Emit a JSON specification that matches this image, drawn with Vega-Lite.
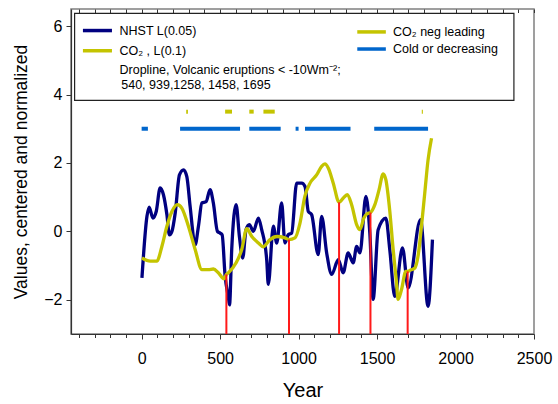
{
  "$schema": "https://vega.github.io/schema/vega-lite/v6.json",
  "autosize": "none",
  "width": 463,
  "height": 325,
  "padding": {"left": 71, "top": 9, "right": 24, "bottom": 70},
  "background": "white",
  "datasets": {
    "curves": [
      {"series": "NHST", "year": 2, "value": -1.36},
      {"series": "NHST", "year": 34, "value": 0.44},
      {"series": "NHST", "year": 48, "value": 0.71},
      {"series": "NHST", "year": 72, "value": 0.39},
      {"series": "NHST", "year": 93, "value": 0.58},
      {"series": "NHST", "year": 118, "value": 1.27},
      {"series": "NHST", "year": 139, "value": 1.07},
      {"series": "NHST", "year": 161, "value": 0.49},
      {"series": "NHST", "year": 177, "value": -0.1},
      {"series": "NHST", "year": 193, "value": 0},
      {"series": "NHST", "year": 214, "value": 0.54},
      {"series": "NHST", "year": 241, "value": 1.65},
      {"series": "NHST", "year": 267, "value": 1.8},
      {"series": "NHST", "year": 288, "value": 1.6},
      {"series": "NHST", "year": 309, "value": 0.73},
      {"series": "NHST", "year": 341, "value": -0.39},
      {"series": "NHST", "year": 362, "value": 0.15},
      {"series": "NHST", "year": 384, "value": 0.83},
      {"series": "NHST", "year": 411, "value": 0.87},
      {"series": "NHST", "year": 436, "value": 1.22},
      {"series": "NHST", "year": 457, "value": 0.83},
      {"series": "NHST", "year": 483, "value": 0},
      {"series": "NHST", "year": 500, "value": -0.05},
      {"series": "NHST", "year": 513, "value": -0.1},
      {"series": "NHST", "year": 532, "value": -1.31},
      {"series": "NHST", "year": 553, "value": -1.94},
      {"series": "NHST", "year": 560, "value": -2.15},
      {"series": "NHST", "year": 574, "value": -0.53},
      {"series": "NHST", "year": 602, "value": 0.78},
      {"series": "NHST", "year": 623, "value": -0.15},
      {"series": "NHST", "year": 644, "value": -0.78},
      {"series": "NHST", "year": 665, "value": 0.05},
      {"series": "NHST", "year": 686, "value": 0.2},
      {"series": "NHST", "year": 712, "value": 0},
      {"series": "NHST", "year": 744, "value": 0.39},
      {"series": "NHST", "year": 765, "value": 0.05},
      {"series": "NHST", "year": 797, "value": -0.83},
      {"series": "NHST", "year": 807, "value": -1.55},
      {"series": "NHST", "year": 839, "value": 0.15},
      {"series": "NHST", "year": 861, "value": -0.34},
      {"series": "NHST", "year": 892, "value": 0.83},
      {"series": "NHST", "year": 913, "value": -0.34},
      {"series": "NHST", "year": 934, "value": -0.1},
      {"series": "NHST", "year": 956, "value": -0.05},
      {"series": "NHST", "year": 988, "value": 1.41},
      {"series": "NHST", "year": 1020, "value": 1.41},
      {"series": "NHST", "year": 1041, "value": 1.31},
      {"series": "NHST", "year": 1062, "value": 0.58},
      {"series": "NHST", "year": 1083, "value": 0.49},
      {"series": "NHST", "year": 1125, "value": -0.68},
      {"series": "NHST", "year": 1147, "value": 0.44},
      {"series": "NHST", "year": 1179, "value": -0.63},
      {"series": "NHST", "year": 1211, "value": -1.26},
      {"series": "NHST", "year": 1253, "value": -0.83},
      {"series": "NHST", "year": 1284, "value": -1.21},
      {"series": "NHST", "year": 1316, "value": -0.63},
      {"series": "NHST", "year": 1348, "value": -0.92},
      {"series": "NHST", "year": 1370, "value": -0.44},
      {"series": "NHST", "year": 1391, "value": -0.63},
      {"series": "NHST", "year": 1429, "value": 1.02},
      {"series": "NHST", "year": 1454, "value": -0.05},
      {"series": "NHST", "year": 1475, "value": -1.99},
      {"series": "NHST", "year": 1507, "value": 0.05},
      {"series": "NHST", "year": 1556, "value": 0.39},
      {"series": "NHST", "year": 1581, "value": -0.53},
      {"series": "NHST", "year": 1613, "value": -1.9},
      {"series": "NHST", "year": 1662, "value": -0.48},
      {"series": "NHST", "year": 1698, "value": -1.65},
      {"series": "NHST", "year": 1777, "value": 0.34},
      {"series": "NHST", "year": 1825, "value": -2.19},
      {"series": "NHST", "year": 1853, "value": -0.24},
      {"series": "CO2", "year": 2, "value": -0.78},
      {"series": "CO2", "year": 55, "value": -0.87},
      {"series": "CO2", "year": 97, "value": -0.87},
      {"series": "CO2", "year": 129, "value": -0.44},
      {"series": "CO2", "year": 161, "value": 0.15},
      {"series": "CO2", "year": 193, "value": 0.58},
      {"series": "CO2", "year": 228, "value": 0.78},
      {"series": "CO2", "year": 256, "value": 0.68},
      {"series": "CO2", "year": 298, "value": 0.15},
      {"series": "CO2", "year": 341, "value": -0.53},
      {"series": "CO2", "year": 384, "value": -1.12},
      {"series": "CO2", "year": 426, "value": -1.12},
      {"series": "CO2", "year": 457, "value": -1.1},
      {"series": "CO2", "year": 489, "value": -1.21},
      {"series": "CO2", "year": 525, "value": -1.39},
      {"series": "CO2", "year": 540, "value": -1.26},
      {"series": "CO2", "year": 553, "value": -1.21},
      {"series": "CO2", "year": 602, "value": -0.92},
      {"series": "CO2", "year": 638, "value": -0.53},
      {"series": "CO2", "year": 670, "value": 0.08},
      {"series": "CO2", "year": 702, "value": -0.15},
      {"series": "CO2", "year": 744, "value": -0.34},
      {"series": "CO2", "year": 775, "value": -0.45},
      {"series": "CO2", "year": 818, "value": -0.24},
      {"series": "CO2", "year": 861, "value": -0.15},
      {"series": "CO2", "year": 913, "value": -0.19},
      {"series": "CO2", "year": 939, "value": -0.24},
      {"series": "CO2", "year": 977, "value": -0.19},
      {"series": "CO2", "year": 1009, "value": 0.24},
      {"series": "CO2", "year": 1040, "value": 1.02},
      {"series": "CO2", "year": 1073, "value": 1.41},
      {"series": "CO2", "year": 1115, "value": 1.65},
      {"series": "CO2", "year": 1147, "value": 1.9},
      {"series": "CO2", "year": 1168, "value": 1.97},
      {"series": "CO2", "year": 1189, "value": 1.85},
      {"series": "CO2", "year": 1221, "value": 1.41},
      {"series": "CO2", "year": 1258, "value": 0.85},
      {"series": "CO2", "year": 1284, "value": 0.97},
      {"series": "CO2", "year": 1310, "value": 1.07},
      {"series": "CO2", "year": 1338, "value": 0.78},
      {"series": "CO2", "year": 1370, "value": 0.2},
      {"series": "CO2", "year": 1391, "value": 0.05},
      {"series": "CO2", "year": 1416, "value": 0.39},
      {"series": "CO2", "year": 1437, "value": 0.52},
      {"series": "CO2", "year": 1458, "value": 0.55},
      {"series": "CO2", "year": 1486, "value": 0.78},
      {"series": "CO2", "year": 1513, "value": 1.22},
      {"series": "CO2", "year": 1539, "value": 1.68},
      {"series": "CO2", "year": 1556, "value": 1.51},
      {"series": "CO2", "year": 1581, "value": 0.6},
      {"series": "CO2", "year": 1602, "value": -0.5},
      {"series": "CO2", "year": 1624, "value": -1.5},
      {"series": "CO2", "year": 1634, "value": -1.99},
      {"series": "CO2", "year": 1656, "value": -1.7},
      {"series": "CO2", "year": 1683, "value": -1.17},
      {"series": "CO2", "year": 1695, "value": -1.17},
      {"series": "CO2", "year": 1709, "value": -1.14},
      {"series": "CO2", "year": 1741, "value": -1.07},
      {"series": "CO2", "year": 1761, "value": -0.73},
      {"series": "CO2", "year": 1783, "value": 0.15},
      {"series": "CO2", "year": 1804, "value": 1.12},
      {"series": "CO2", "year": 1825, "value": 2.09},
      {"series": "CO2", "year": 1847, "value": 2.72}
    ],
    "eruptions": [
      {"year": 540, "co2": -1.26},
      {"year": 939, "co2": -0.24},
      {"year": 1258, "co2": 0.85},
      {"year": 1458, "co2": 0.55},
      {"year": 1695, "co2": -1.17}
    ],
    "periods": [
      {"kind": "cold", "start": 0, "end": 40},
      {"kind": "cold", "start": 245, "end": 627},
      {"kind": "cold", "start": 686, "end": 886},
      {"kind": "cold", "start": 981, "end": 1000},
      {"kind": "cold", "start": 1041, "end": 1331},
      {"kind": "cold", "start": 1482, "end": 1825},
      {"kind": "neg", "start": 284, "end": 295},
      {"kind": "neg", "start": 532, "end": 576},
      {"kind": "neg", "start": 686, "end": 714},
      {"kind": "neg", "start": 776, "end": 848},
      {"kind": "neg", "start": 1785, "end": 1792}
    ],
    "one": [{}]
  },
  "layer": [
    {
      "data": {"name": "curves"},
      "mark": {"type": "line", "interpolate": "monotone", "strokeWidth": 3.3},
      "encoding": {
        "x": {
          "field": "year", "type": "quantitative",
          "scale": {"domain": [-450, 2500], "nice": false, "zero": false},
          "axis": {
            "orient": "bottom",
            "values": [-400, -300, -200, -100, 0, 100, 200, 300, 400, 500, 600, 700, 800, 900, 1000, 1100, 1200, 1300, 1400, 1500, 1600, 1700, 1800, 1900, 2000, 2100, 2200, 2300, 2400, 2500],
            "format": "d",
            "labelExpr": "datum.value % 500 === 0 ? datum.label : ''",
            "labelFontSize": 16,
            "labelPadding": 11,
            "labelOverlap": false,
            "labelFlush": false,
            "tickSize": {"condition": {"test": "datum.value % 500 === 0", "value": 5}, "value": 3.5},
            "title": "Year",
            "titleFontSize": 20,
            "titleFontWeight": "normal",
            "titleBaseline": "alphabetic",
            "titleY": 62
          }
        },
        "y": {
          "field": "value", "type": "quantitative",
          "scale": {"domain": [-3, 6.5], "nice": false, "zero": false},
          "axis": {
            "values": [-2, 0, 2, 4, 6],
            "format": "d",
            "labelFontSize": 16,
            "labelPadding": 4,
            "tickSize": 5,
            "title": "Values, centered and normalized",
            "titleFontSize": 17.5,
            "titleFontWeight": "normal",
            "titleBaseline": "alphabetic",
            "titleX": -45,
            "titleY": 162.5
          }
        },
        "color": {
          "field": "series", "type": "nominal",
          "scale": {"domain": ["NHST", "CO2"], "range": ["#000080", "#c4c400"]},
          "legend": null
        },
        "order": {"field": "year", "type": "quantitative"}
      }
    },
    {
      "data": {"name": "eruptions"},
      "mark": {"type": "rule", "color": "#ff1a1a", "strokeWidth": 2},
      "encoding": {
        "x": {
          "field": "year", "type": "quantitative",
          "axis": {
            "orient": "top",
            "values": [-400, -300, -200, -100, 0, 100, 200, 300, 400, 500, 600, 700, 800, 900, 1000, 1100, 1200, 1300, 1400, 1500, 1600, 1700, 1800, 1900, 2000, 2100, 2200, 2300, 2400, 2500],
            "labels": false,
            "domain": false,
            "offset": -3.5,
            "tickSize": 3.5,
            "title": null
          }
        },
        "y": {"field": "co2", "type": "quantitative"},
        "y2": {"datum": -3}
      }
    },
    {
      "data": {"name": "periods"},
      "transform": [{"filter": "datum.kind === 'cold'"}],
      "mark": {"type": "rule", "color": "#0066cc", "strokeWidth": 4, "strokeCap": "butt"},
      "encoding": {
        "x": {"field": "start", "type": "quantitative", "axis": null},
        "x2": {"field": "end"},
        "y": {"datum": 3}
      }
    },
    {
      "data": {"name": "periods"},
      "transform": [{"filter": "datum.kind === 'neg'"}],
      "mark": {"type": "rule", "color": "#c4c400", "strokeWidth": 4, "strokeCap": "butt"},
      "encoding": {
        "x": {"field": "start", "type": "quantitative", "axis": null},
        "x2": {"field": "end"},
        "y": {"datum": 3.5}
      }
    },
    {
      "data": {"name": "one"},
      "mark": {"type": "rect", "fill": "white", "stroke": "#222222", "strokeWidth": 1.2},
      "encoding": {
        "x": {"datum": -427, "axis": null},
        "x2": {"datum": 2372},
        "y": {"datum": 6.37},
        "y2": {"datum": 3.83}
      }
    },
    {
      "data": {"name": "one"},
      "mark": {"type": "rule", "color": "#000080", "strokeWidth": 3.5},
      "encoding": {
        "x": {"datum": -374, "axis": null}, "x2": {"datum": -189},
        "y": {"datum": 5.87}
      }
    },
    {
      "data": {"name": "one"},
      "mark": {"type": "rule", "color": "#c4c400", "strokeWidth": 3.5},
      "encoding": {
        "x": {"datum": -374, "axis": null}, "x2": {"datum": -189},
        "y": {"datum": 5.28}
      }
    },
    {
      "data": {"name": "one"},
      "mark": {"type": "rule", "color": "#c4c400", "strokeWidth": 3.5},
      "encoding": {
        "x": {"datum": 1374, "axis": null}, "x2": {"datum": 1556},
        "y": {"datum": 5.83}
      }
    },
    {
      "data": {"name": "one"},
      "mark": {"type": "rule", "color": "#0066cc", "strokeWidth": 3.5},
      "encoding": {
        "x": {"datum": 1374, "axis": null}, "x2": {"datum": 1556},
        "y": {"datum": 5.33}
      }
    },
    {
      "data": {"name": "one"},
      "mark": {"type": "text", "text": "NHST L(0.05)", "align": "left", "baseline": "middle", "fontSize": 12.5},
      "encoding": {"x": {"datum": -141, "axis": null}, "y": {"datum": 5.87}}
    },
    {
      "data": {"name": "one"},
      "mark": {"type": "text", "text": "CO₂ , L(0.1)", "align": "left", "baseline": "middle", "fontSize": 12.5},
      "encoding": {"x": {"datum": -141, "axis": null}, "y": {"datum": 5.28}}
    },
    {
      "data": {"name": "one"},
      "mark": {"type": "text", "text": "Dropline, Volcanic eruptions < -10Wm⁻²;", "align": "left", "baseline": "middle", "fontSize": 12.5},
      "encoding": {"x": {"datum": -141, "axis": null}, "y": {"datum": 4.72}}
    },
    {
      "data": {"name": "one"},
      "mark": {"type": "text", "text": "540, 939,1258, 1458, 1695", "align": "left", "baseline": "middle", "fontSize": 12.5},
      "encoding": {"x": {"datum": -130, "axis": null}, "y": {"datum": 4.28}}
    },
    {
      "data": {"name": "one"},
      "mark": {"type": "text", "text": "CO₂ neg leading", "align": "left", "baseline": "middle", "fontSize": 12.5},
      "encoding": {"x": {"datum": 1602, "axis": null}, "y": {"datum": 5.83}}
    },
    {
      "data": {"name": "one"},
      "mark": {"type": "text", "text": "Cold or decreasing", "align": "left", "baseline": "middle", "fontSize": 12.5},
      "encoding": {"x": {"datum": 1602, "axis": null}, "y": {"datum": 5.33}}
    }
  ],
  "resolve": {"axis": {"x": "independent"}},
  "config": {
    "view": {"stroke": "#808080", "strokeWidth": 1.5},
    "axis": {
      "grid": false,
      "domainColor": "#333333",
      "domainWidth": 1.2,
      "tickColor": "#333333",
      "labelColor": "#000000",
      "titleColor": "#000000",
      "labelFont": "Liberation Sans",
      "titleFont": "Liberation Sans"
    },
    "text": {"font": "Liberation Sans", "color": "#000000"}
  }
}
